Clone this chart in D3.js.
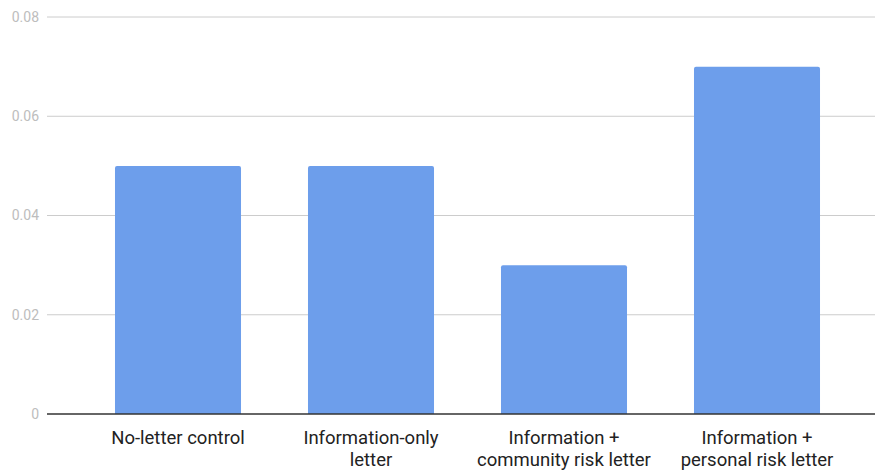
<!DOCTYPE html>
<html>
<head>
<meta charset="utf-8">
<script src="https://cdn.jsdelivr.net/npm/d3@7"></script>
<style>
  body { margin: 0; background: #fff; }
  text { font-family: Roboto, "Noto Sans", sans-serif; }
</style>
</head>
<body>
<svg id="chart" width="875" height="471"></svg>
<script>
// data
var categories = [
  ["No-letter control"],
  ["Information-only", "letter"],
  ["Information +", "community risk letter"],
  ["Information +", "personal risk letter"]
];
var values = [0.05, 0.05, 0.03, 0.07];
var yTicks = [0, 0.02, 0.04, 0.06, 0.08];

var svg = d3.select("#chart");

var x = d3.scaleBand()
    .domain(d3.range(categories.length))
    .range([81.5, 853.5])
    .paddingInner(0.347)
    .paddingOuter(0.1735);

var y = d3.scaleLinear()
    .domain([0, 0.08])
    .range([414, 17]);

// gridlines
svg.append("g")
  .selectAll("line")
  .data(yTicks.slice(1))
  .enter().append("line")
    .attr("x1", 47)
    .attr("x2", 875)
    .attr("y1", function(d) { return y(d); })
    .attr("y2", function(d) { return y(d); })
    .attr("stroke", "#cccccc")
    .attr("stroke-width", 1);

// tick labels
svg.append("g")
  .selectAll("text")
  .data(yTicks)
  .enter().append("text")
    .attr("x", 39)
    .attr("y", function(d) { return y(d); })
    .attr("dy", "0.35em")
    .attr("text-anchor", "end")
    .attr("fill", "#bdbdbd")
    .attr("font-size", 14)
    .text(function(d) { return d === 0 ? "0" : d.toFixed(2); });

// bars (slightly rounded tops, like the original)
svg.append("g")
  .selectAll("path")
  .data(values)
  .enter().append("path")
    .attr("d", function(d, i) {
      var x0 = x(i), x1 = x(i) + x.bandwidth(), y0 = y(0), y1 = y(d), r = 2;
      return "M" + x0 + "," + y0 + "V" + (y1 + r) + "Q" + x0 + "," + y1 + " " + (x0 + r) + "," + y1 +
             "H" + (x1 - r) + "Q" + x1 + "," + y1 + " " + x1 + "," + (y1 + r) + "V" + y0 + "Z";
    })
    .attr("fill", "#6d9eeb");

// baseline
svg.append("line")
    .attr("x1", 47)
    .attr("x2", 875)
    .attr("y1", y(0))
    .attr("y2", y(0))
    .attr("stroke", "#333333")
    .attr("stroke-width", 1.3);

// category labels
var lab = svg.append("g")
  .selectAll("text")
  .data(categories)
  .enter().append("text")
    .attr("x", function(d, i) { return x(i) + x.bandwidth() / 2; })
    .attr("y", 443.5)
    .attr("text-anchor", "middle")
    .attr("fill", "#222222")
    .attr("font-size", 18.5);

lab.selectAll("tspan")
  .data(function(d) { return d; })
  .enter().append("tspan")
    .attr("x", function() { return d3.select(this.parentNode).attr("x"); })
    .attr("dy", function(d, i) { return i === 0 ? 0 : 22.5; })
    .text(function(d) { return d; });
</script>
</body>
</html>
